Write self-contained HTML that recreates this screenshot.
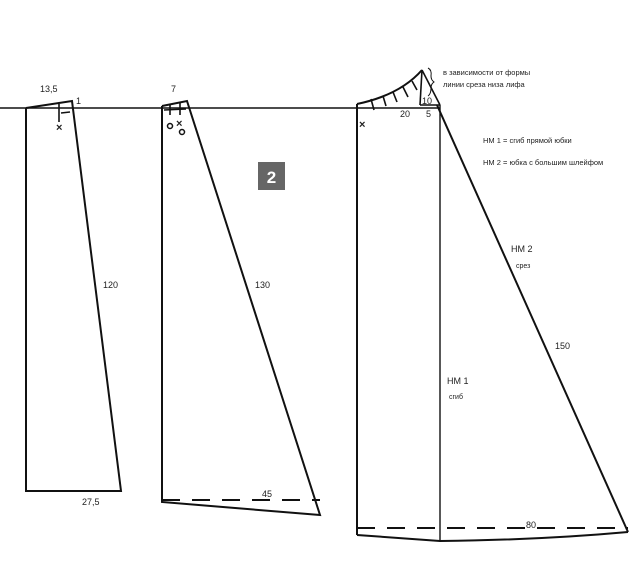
<!DOCTYPE html>
<html><head><meta charset="utf-8"><style>
html,body{margin:0;padding:0;background:#fff;}
svg{display:block;}
text{font-family:"Liberation Sans",sans-serif;fill:#222;}
</style></head><body>
<svg width="641" height="584" viewBox="0 0 641 584">
<g stroke="#111" fill="none" stroke-width="1.6">
<line x1="0" y1="108" x2="440" y2="108"/>
<polyline points="26,108 26,491 121,491 72,101 26,108" stroke-width="2"/>
<line x1="59" y1="104" x2="59" y2="122"/>
<line x1="61" y1="113" x2="70" y2="112"/>
<polyline points="162,106 162,502 320,515 187,101 162,106" stroke-width="2"/>
<line x1="170" y1="104" x2="170" y2="115"/>
<line x1="180" y1="102" x2="180" y2="115"/>
<line x1="164" y1="110" x2="186" y2="109"/>
<line x1="162" y1="500" x2="320" y2="500" stroke-dasharray="18,12" stroke-width="2"/>
<polyline points="357,104 357,535" stroke-width="2"/>
<path d="M357,535 L440,541 Q540,540 628,532" stroke-width="2"/>
<line x1="440" y1="105" x2="440" y2="541" stroke-width="1.4"/>
<line x1="420" y1="105" x2="440" y2="105"/>
<line x1="422" y1="70" x2="420" y2="105"/>
<line x1="422" y1="70" x2="440" y2="105"/>
<line x1="437" y1="105" x2="628" y2="532" stroke-width="2"/>
<path d="M357,104 Q400,95 422,70" stroke-width="2"/>
<line x1="371" y1="99" x2="374" y2="110"/>
<line x1="383" y1="96" x2="386" y2="106"/>
<line x1="393" y1="92" x2="397" y2="102"/>
<line x1="403" y1="87" x2="408" y2="97"/>
<line x1="412" y1="81" x2="417" y2="90"/>
<line x1="357" y1="528" x2="628" y2="528" stroke-dasharray="18,12" stroke-width="2"/>
<path d="M428,68 q4,2 3,8 q0,4 3,6 q-3,2 -3,6 q0,6 -3,8" stroke-width="1"/>
</g>
<g font-size="11" font-weight="bold" fill="#111">
<text x="56" y="131">×</text>
<text x="176" y="127">×</text>
<text x="359" y="128">×</text>
</g>
<circle cx="170" cy="126" r="2.5" fill="none" stroke="#111" stroke-width="1.5"/>
<circle cx="182" cy="132" r="2.5" fill="none" stroke="#111" stroke-width="1.5"/>
<rect x="258" y="162" width="27" height="28" fill="#666"/>
<text x="271.5" y="183" font-size="17" font-weight="bold" text-anchor="middle" style="fill:#fff">2</text>
<g font-size="9">
<text x="40" y="92">13,5</text>
<text x="76" y="104">1</text>
<text x="171" y="92">7</text>
<text x="103" y="288">120</text>
<text x="82" y="505">27,5</text>
<text x="255" y="288">130</text>
<text x="262" y="497">45</text>
<text x="400" y="117">20</text>
<text x="426" y="117">5</text>
<text x="422" y="104">10</text>
<text x="511" y="252">НМ 2</text>
<text x="516" y="268" font-size="7">срез</text>
<text x="555" y="349">150</text>
<text x="447" y="384">НМ 1</text>
<text x="449" y="399" font-size="7">сгиб</text>
<text x="526" y="528">80</text>
</g>
<g font-size="7.5">
<text x="443" y="75">в зависимости от формы</text>
<text x="443" y="87">линии среза низа лифа</text>
<text x="483" y="143">НМ 1 = сгиб прямой юбки</text>
<text x="483" y="165">НМ 2 = юбка с большим шлейфом</text>
</g>
</svg>
</body></html>
